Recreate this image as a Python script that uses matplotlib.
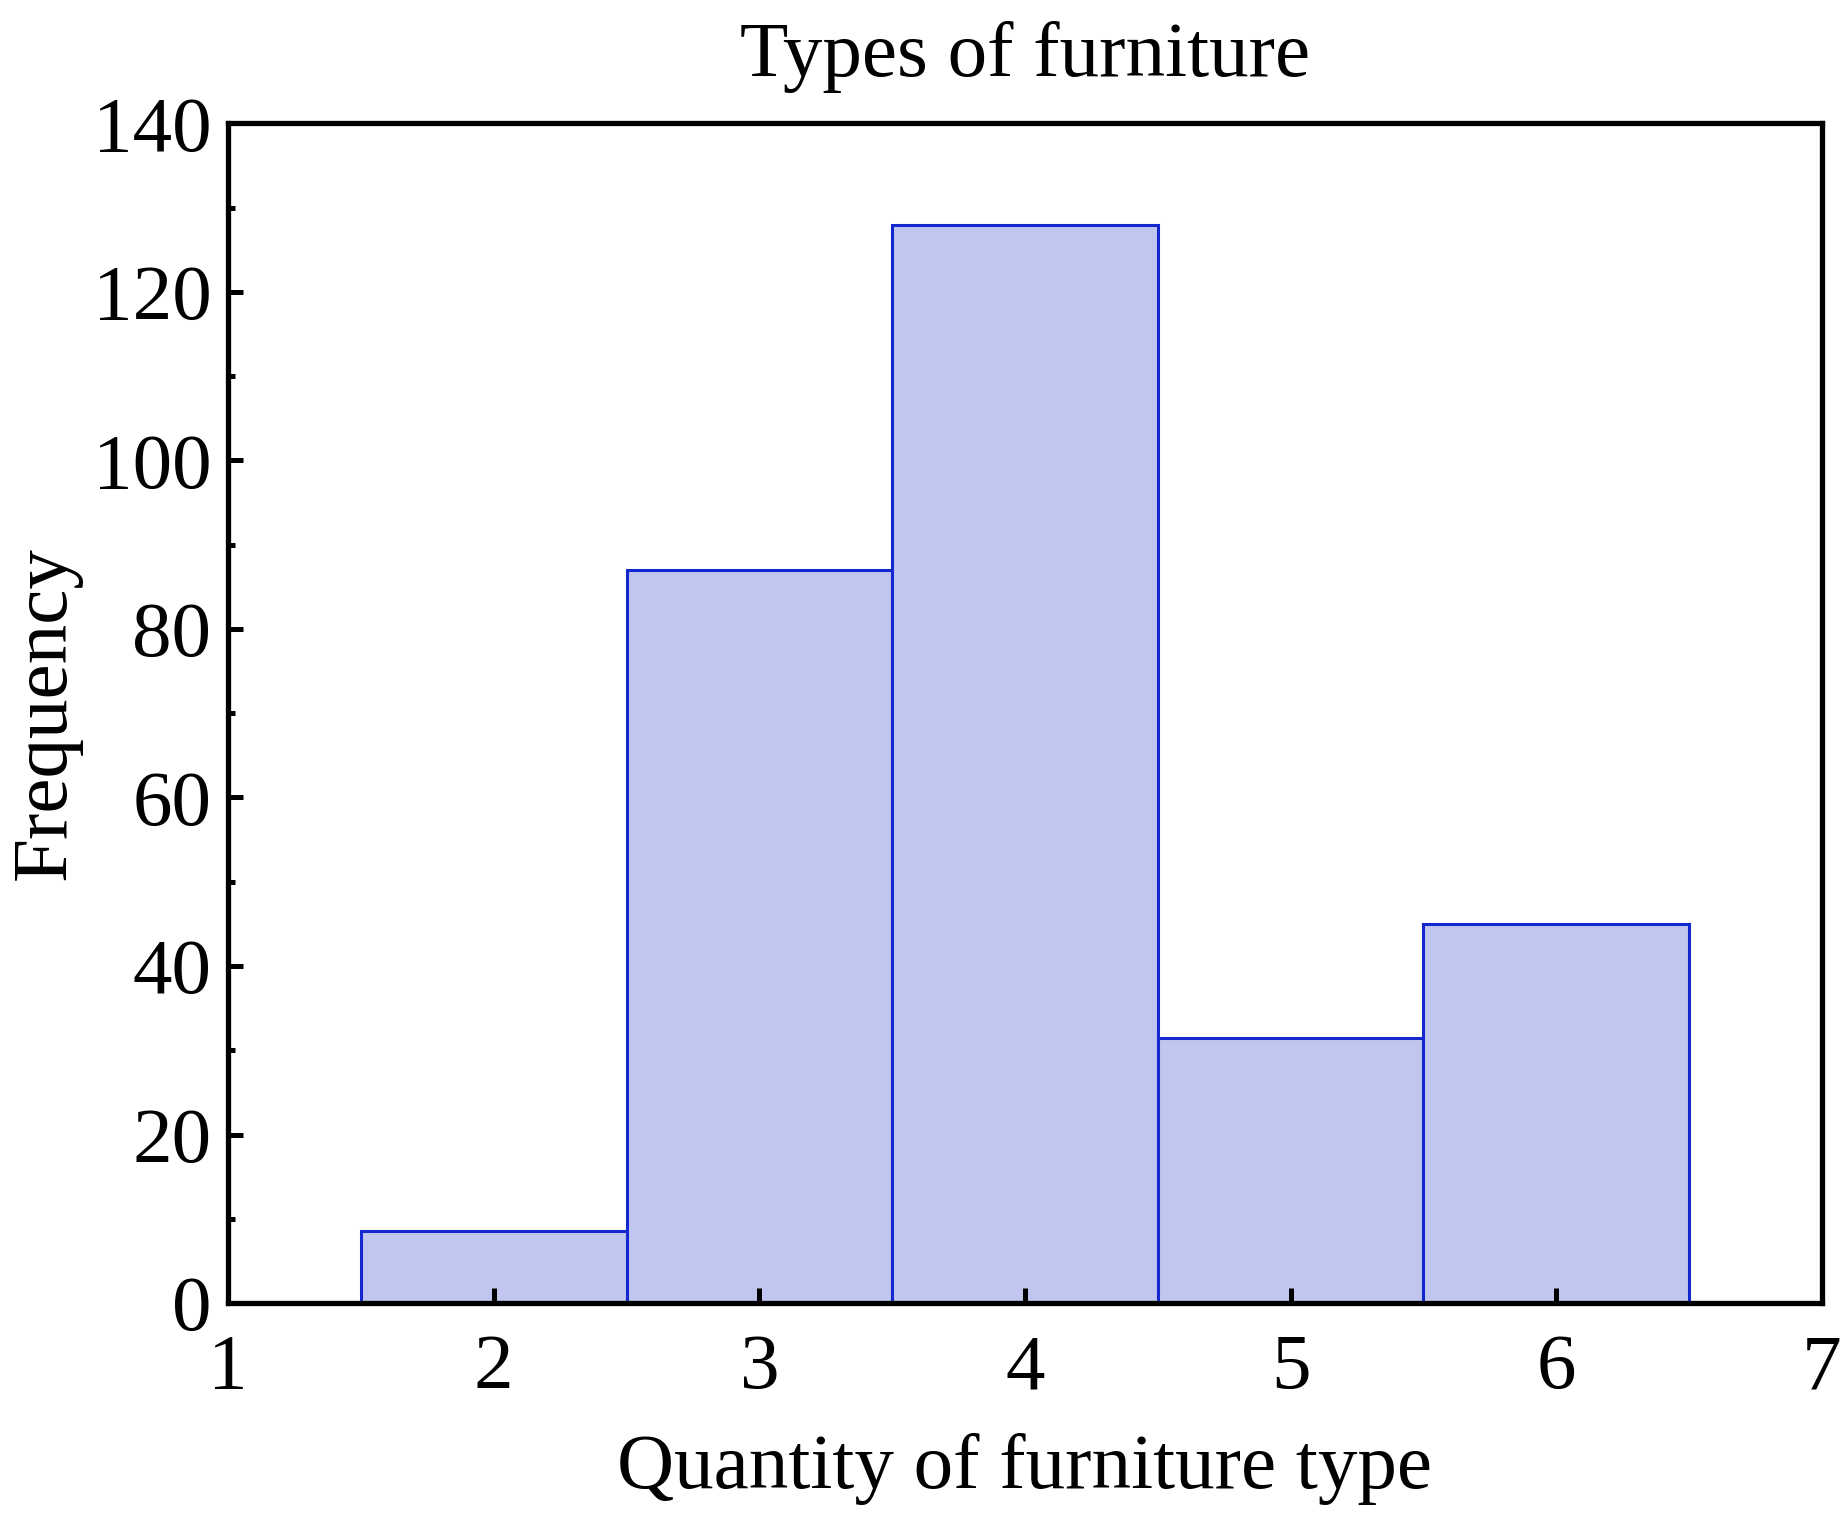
import matplotlib
matplotlib.use("Agg")
import matplotlib.pyplot as plt
from matplotlib.ticker import MultipleLocator

# furniture-type counts (bin centers) and frequencies
quantities = [2, 3, 4, 5, 6]
frequencies = [8.5, 87, 128, 31.5, 45]

plt.rcParams["font.family"] = ["Liberation Serif", "DejaVu Serif"]

fig = plt.figure(figsize=(18.45, 15.24), dpi=100)
ax = fig.add_axes([0.1236, 0.145, 0.8639, 0.774])

ax.bar(quantities, frequencies, width=1.0, bottom=0,
       facecolor="#c0c6ee", edgecolor="#1428d0", linewidth=2.2)

ax.set_xlim(1, 7)
ax.set_ylim(0, 140)
ax.xaxis.set_major_locator(MultipleLocator(1))
ax.yaxis.set_major_locator(MultipleLocator(20))
ax.yaxis.set_minor_locator(MultipleLocator(10))

for s in ax.spines.values():
    s.set_linewidth(3.8)

ax.tick_params(axis="both", which="major", direction="in", length=11,
               width=3.6, labelsize=57)
ax.tick_params(axis="x", which="major", pad=22)
ax.tick_params(axis="y", which="major", pad=12)
ax.tick_params(axis="y", which="minor", direction="in", length=5, width=3.6)
ax.tick_params(top=False, right=False)

ax.set_title("Types of furniture", fontsize=57, pad=34)
ax.set_xlabel("Quantity of furniture type", fontsize=57, labelpad=20)
ax.set_ylabel("Frequency", fontsize=57, labelpad=8)

fig.savefig("out.png", dpi=100)
